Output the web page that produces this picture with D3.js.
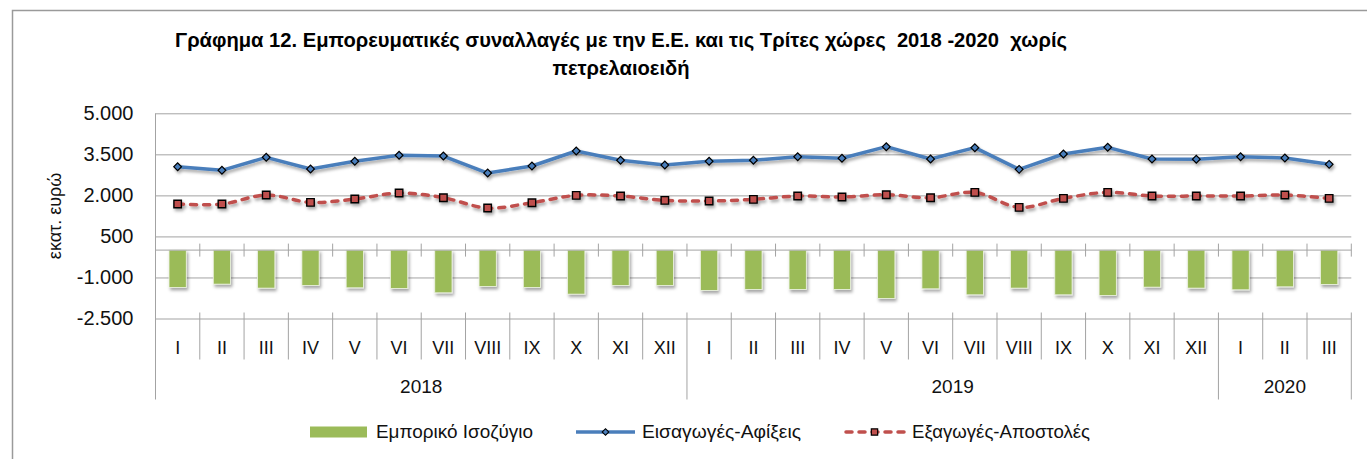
<!DOCTYPE html>
<html>
<head>
<meta charset="utf-8">
<script src="https://cdn.jsdelivr.net/npm/d3@7"></script>
<style>
  body { margin: 0; background: #fff; }
  svg { display: block; font-family: "Liberation Sans", Arial, sans-serif; }
</style>
</head>
<body>
<div id="chart"></div>
<script>
// values (million euro)
const months = ["I", "II", "III", "IV", "V", "VI", "VII", "VIII", "IX", "X", "XI", "XII",
  "I", "II", "III", "IV", "V", "VI", "VII", "VIII", "IX", "X", "XI", "XII",
  "I", "II", "III"];
const years = ["2018", "2018", "2018", "2018", "2018", "2018", "2018", "2018", "2018", "2018", "2018", "2018",
  "2019", "2019", "2019", "2019", "2019", "2019", "2019", "2019", "2019", "2019", "2019", "2019",
  "2020", "2020", "2020"];
const balance = [-1366, -1244, -1390, -1293, -1378, -1402, -1561, -1329, -1366, -1610, -1293, -1293,
  -1476, -1439, -1439, -1439, -1768, -1415, -1634, -1390, -1634, -1659, -1354, -1390,
  -1451, -1342, -1256];
const imports = [3048, 2916, 3391, 2963, 3245, 3464, 3439, 2817, 3073, 3622, 3282, 3110,
  3245, 3282, 3414, 3355, 3780, 3329, 3744, 2951, 3512, 3756, 3329, 3317,
  3414, 3366, 3134];
const exports = [1683, 1683, 2012, 1744, 1866, 2085, 1915, 1537, 1732, 2001, 1976, 1818,
  1793, 1855, 1976, 1939, 2023, 1915, 2110, 1561, 1890, 2110, 1976, 1976,
  1976, 2012, 1890];
const yTicks = [-2500, -1000, 500, 2000, 3500, 5000];
const titleLines = [
  "Γράφημα 12. Εμπορευματικές συναλλαγές με την Ε.Ε. και τις Τρίτες χώρες  2018 -2020  χωρίς",
  "πετρελαιοειδή",
];
const yTitle = "εκατ. ευρώ";
const seriesNames = ["Εμπορικό Ισοζύγιο", "Εισαγωγές-Αφίξεις", "Εξαγωγές-Αποστολές"];

const width = 1367;
const height = 459;
const plot = { left: 155.5, right: 1351.3, top: 113.3, bottom: 318.5 };
const green = "#9bbb59", blue = "#4a7ebb", red = "#c0504d", grid = "#a3a3a3";

const data = months.map((m, i) => ({
  i, month: m, year: years[i], bal: balance[i], imp: imports[i], exp: exports[i],
}));

const fmt = d3.formatLocale({
  decimal: ",", thousands: ".", grouping: [3], currency: ["", "€"], minus: "-",
}).format(",d");

const x = d3.scaleBand().domain(d3.range(months.length)).range([plot.left, plot.right]);
const xb = d3.scaleLinear().domain([0, months.length]).range([plot.left, plot.right]); // boundaries
const y = d3.scaleLinear().domain([-2500, 5000]).range([plot.bottom, plot.top]);
const cx = (i) => x(i) + x.bandwidth() / 2;

const svg = d3.select("#chart").append("svg").attr("width", width).attr("height", height);

const f = svg.append("defs").append("filter").attr("id", "shadow")
  .attr("x", "-30%").attr("y", "-30%").attr("width", "160%").attr("height", "170%");
f.append("feDropShadow").attr("dx", 1.5).attr("dy", 2.5).attr("stdDeviation", 1.4)
  .attr("flood-color", "#000").attr("flood-opacity", 0.35);

// fit a text element to a given width, return the squeeze factor
function fitWidth(sel, w) {
  const k = w / sel.node().getComputedTextLength();
  sel.attr("textLength", w).attr("lengthAdjust", "spacingAndGlyphs");
  return k;
}

// outer frame
svg.append("path").attr("d", `M12.5,${height} V10.5 H${width}`)
  .attr("fill", "none").attr("stroke", "#9a9a9a").attr("stroke-width", 1.5);

// title
const title = svg.append("g").attr("font-weight", "bold").attr("font-size", 19.5)
  .attr("text-anchor", "middle");
const t1 = title.append("text").attr("x", 621).attr("y", 47)
  .attr("xml:space", "preserve").style("white-space", "pre").text(titleLines[0]);
const t2 = title.append("text").attr("x", 621).attr("y", 75).text(titleLines[1]);
const k = fitWidth(t1, 892);
t2.attr("textLength", t2.node().getComputedTextLength() * k).attr("lengthAdjust", "spacingAndGlyphs");

// gridlines
svg.append("g").attr("transform", `translate(${plot.left},0)`)
  .call(d3.axisLeft(y).tickValues(yTicks).tickSize(-(plot.right - plot.left)).tickFormat(""))
  .call((g) => g.select(".domain").remove())
  .call((g) => g.selectAll("line").attr("stroke", grid));

// y labels
svg.append("g").attr("transform", `translate(${plot.left},0)`)
  .call(d3.axisLeft(y).tickValues(yTicks).tickSize(0).tickPadding(22).tickFormat(fmt))
  .call((g) => g.select(".domain").remove())
  .call((g) => g.selectAll("text").attr("font-size", 20).attr("fill", "#111")
    .attr("font-family", "Liberation Sans, Arial, sans-serif"));

svg.append("text").attr("transform", `translate(55,${y(1250)}) rotate(-90)`)
  .attr("text-anchor", "middle").attr("dy", "0.35em").attr("font-size", 18).attr("fill", "#111")
  .text(yTitle);

// left axis line down through the label table
const tableBottom = 399.5;
svg.append("line").attr("x1", plot.left).attr("x2", plot.left)
  .attr("y1", plot.top).attr("y2", tableBottom).attr("stroke", grid);

// bars
svg.append("g").attr("filter", "url(#shadow)")
  .selectAll("rect").data(data).join("rect")
  .attr("x", (d) => cx(d.i) - x.bandwidth() * 0.195)
  .attr("width", x.bandwidth() * 0.39)
  .attr("y", y(0))
  .attr("height", (d) => y(d.bal) - y(0))
  .attr("fill", green).attr("stroke", "#eef3e4").attr("stroke-width", 0.8);

// category axis at zero with cross ticks
const zeroAxis = svg.append("g").attr("stroke", grid);
zeroAxis.append("line").attr("x1", plot.left).attr("x2", plot.right)
  .attr("y1", y(0)).attr("y2", y(0));
zeroAxis.selectAll(".tk").data(d3.range(1, months.length + 1)).join("line")
  .attr("x1", (i) => xb(i)).attr("x2", (i) => xb(i))
  .attr("y1", y(0) - 6.5).attr("y2", y(0) + 6.5);

// lines
const impLine = d3.line().x((d) => cx(d.i)).y((d) => y(d.imp));
const expLine = d3.line().x((d) => cx(d.i)).y((d) => y(d.exp)).curve(d3.curveCatmullRom.alpha(0.5));

const gExp = svg.append("g").attr("filter", "url(#shadow)");
gExp.append("path").datum(data).attr("d", expLine).attr("fill", "none")
  .attr("stroke", red).attr("stroke-width", 3.5).attr("stroke-dasharray", "6,7")
  .attr("stroke-linecap", "round");
gExp.selectAll("path.m").data(data).join("path").attr("class", "m")
  .attr("transform", (d) => `translate(${cx(d.i)},${y(d.exp)})`)
  .attr("d", d3.symbol(d3.symbolSquare, 56))
  .attr("fill", red).attr("stroke", "#000").attr("stroke-width", 1.4);

const gImp = svg.append("g").attr("filter", "url(#shadow)");
gImp.append("path").datum(data).attr("d", impLine).attr("fill", "none")
  .attr("stroke", blue).attr("stroke-width", 3.5).attr("stroke-linejoin", "round");
gImp.selectAll("path.m").data(data).join("path").attr("class", "m")
  .attr("transform", (d) => `translate(${cx(d.i)},${y(d.imp)}) rotate(45)`)
  .attr("d", d3.symbol(d3.symbolSquare, 30))
  .attr("fill", blue).attr("stroke", "#000").attr("stroke-width", 1.2);

// label table below the plot
const yearGroups = d3.groups(data, (d) => d.year);
let start = 0;
const yearSpans = yearGroups.map(([yr, rows]) => {
  const s = { year: yr, from: start, to: start + rows.length };
  start += rows.length;
  return s;
});
const yearEdges = new Set(yearSpans.map((s) => s.to));

const table = svg.append("g");
table.selectAll("line").data(d3.range(1, months.length + 1)).join("line")
  .attr("x1", (i) => xb(i)).attr("x2", (i) => xb(i))
  .attr("y1", plot.bottom - 6).attr("y2", (i) => (yearEdges.has(i) ? tableBottom : 359.5))
  .attr("stroke", grid);

table.selectAll("text.mo").data(data).join("text").attr("class", "mo")
  .attr("x", (d) => cx(d.i)).attr("y", 348).attr("dy", "0.35em")
  .attr("text-anchor", "middle").attr("font-size", 18).attr("fill", "#111")
  .text((d) => d.month);

table.selectAll("text.yr").data(yearSpans).join("text").attr("class", "yr")
  .attr("x", (s) => (xb(s.from) + xb(s.to)) / 2).attr("y", 386).attr("dy", "0.35em")
  .attr("text-anchor", "middle").attr("font-size", 19).attr("fill", "#111")
  .text((s) => s.year);

// legend
const ly = 432;
const legend = svg.append("g").attr("font-size", 18.5).attr("fill", "#111");
legend.append("rect").attr("x", 310).attr("y", ly - 5.5).attr("width", 57).attr("height", 11).attr("fill", green);
fitWidth(legend.append("text").attr("x", 376).attr("y", ly).attr("dy", "0.35em").text(seriesNames[0]), 157);

legend.append("line").attr("x1", 576).attr("x2", 635).attr("y1", ly).attr("y2", ly)
  .attr("stroke", blue).attr("stroke-width", 3.5);
legend.append("path").attr("transform", `translate(605.5,${ly}) rotate(45)`)
  .attr("d", d3.symbol(d3.symbolSquare, 22)).attr("fill", blue).attr("stroke", "#000").attr("stroke-width", 1.1);
fitWidth(legend.append("text").attr("x", 642).attr("y", ly).attr("dy", "0.35em").text(seriesNames[1]), 159);

legend.append("line").attr("x1", 846).attr("x2", 904).attr("y1", ly).attr("y2", ly)
  .attr("stroke", red).attr("stroke-width", 3.5).attr("stroke-dasharray", "6,7").attr("stroke-linecap", "round");
legend.append("path").attr("transform", `translate(874.5,${ly})`)
  .attr("d", d3.symbol(d3.symbolSquare, 40)).attr("fill", red).attr("stroke", "#000").attr("stroke-width", 1.2);
fitWidth(legend.append("text").attr("x", 912).attr("y", ly).attr("dy", "0.35em").text(seriesNames[2]), 178);
</script>
</body>
</html>
